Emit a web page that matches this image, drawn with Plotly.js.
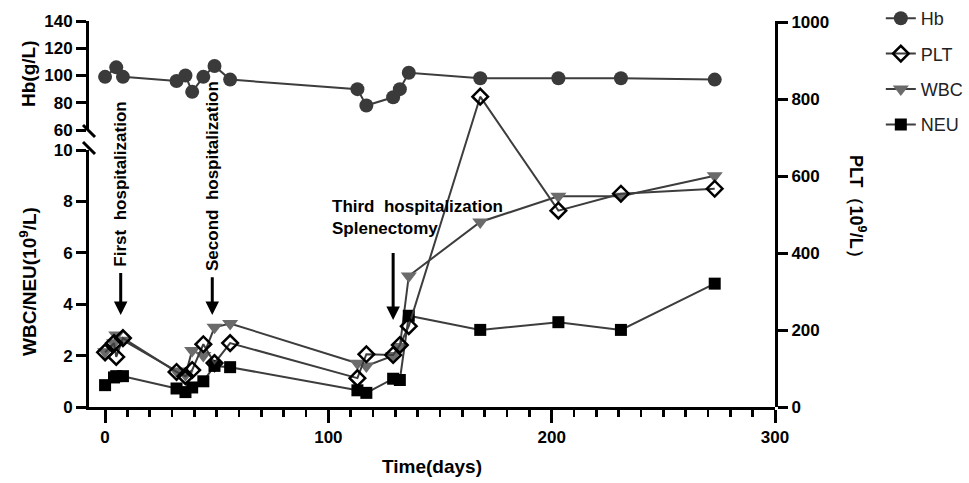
<!DOCTYPE html>
<html>
<head>
<meta charset="utf-8">
<script src="https://cdn.plot.ly/plotly-3.0.1.min.js"></script>
<style>
  html, body { margin: 0; padding: 0; background: #ffffff; }
  #chart { width: 969px; height: 483px; }
</style>
</head>
<body>
<div id="chart"></div>
<script>
// ---- data ----
const hbDays = [0, 5, 8, 32, 36, 39, 44, 49, 56, 113, 117, 129, 132, 136, 168, 203, 231, 273];
const hbValues = [99, 106, 99, 96, 100, 88, 99, 107, 97, 90, 78, 84, 90, 102, 98, 98, 98, 97];

const bloodDays = [0, 4, 5, 8, 32, 36, 39, 44, 49, 56, 113, 117, 129, 132, 136, 168, 203, 231, 273];
const pltValues = [142, 166, 130, 179, 91, 80, 96, 163, 114, 166, 75, 137, 135, 161, 210, 806, 510, 554, 567];
const wbcValues = [2.15, 2.5, 2.8, 2.6, 1.4, 1.25, 2.2, 2.0, 3.1, 3.25, 1.7, 1.6, 2.0, 2.35, 5.1, 7.2, 8.2, 8.2, 9.0];
const neuValues = [0.85, 1.15, 1.2, 1.2, 0.72, 0.58, 0.76, 1.0, 1.6, 1.55, 0.65, 0.55, 1.1, 1.05, 3.55, 3.0, 3.3, 3.0, 4.8];

const seriesNames = ['Hb', 'PLT', 'WBC', 'NEU'];
const xTickValues = [0, 100, 200, 300];

// event labels (day, text)
const eventDays = [7, 48, 129];
const eventTexts = ['First\u00a0 hospitalization', 'Second\u00a0 hospitalization', 'Third\u00a0 hospitalization<br>Splenectomy'];

// axis titles
const xTitle = 'Time(days)';
const hbTitle = 'Hb(g/L)';
const wbcTitle = 'WBC/NEU(10<sup>9</sup>/L)';
const pltTitle = 'PLT（10<sup>9</sup>/L）';

// ---- styling ----
const FONT = 'Liberation Sans, Arial, Helvetica, sans-serif';
const LINE = '#3d3d3d';

const traces = [
  {
    name: seriesNames[0], x: hbDays, y: hbValues, xaxis: 'x', yaxis: 'y2',
    mode: 'lines+markers', legendgroup: 'a', cliponaxis: false,
    line: { color: LINE, width: 2 },
    marker: { symbol: 'circle', size: 14, color: '#3a3a3a' }
  },
  {
    name: seriesNames[1], x: bloodDays, y: pltValues, xaxis: 'x', yaxis: 'y3',
    mode: 'lines+markers', legendgroup: 'b', cliponaxis: false,
    line: { color: LINE, width: 2 },
    marker: { symbol: 'diamond-open', size: 12, color: '#000000', line: { width: 2.5, color: '#000000' } }
  },
  {
    name: seriesNames[2], x: bloodDays, y: wbcValues, xaxis: 'x', yaxis: 'y',
    mode: 'lines+markers', legendgroup: 'c', cliponaxis: false,
    line: { color: LINE, width: 2 },
    marker: { symbol: 'triangle-down', size: 14, color: '#6b6b6b' }
  },
  {
    name: seriesNames[3], x: bloodDays, y: neuValues, xaxis: 'x', yaxis: 'y',
    mode: 'lines+markers', legendgroup: 'd', cliponaxis: false,
    line: { color: LINE, width: 2 },
    marker: { symbol: 'square', size: 12, color: '#000000' }
  }
];

const tickFont = { family: FONT, size: 17, color: '#000', weight: 'bold' };
const titleFont = { family: FONT, size: 19, color: '#000', weight: 'bold' };
const labelFont = { family: FONT, size: 17, color: '#000', weight: 'bold' };

const axisCommon = {
  showline: true, linewidth: 3, linecolor: '#000',
  ticks: 'outside', tickwidth: 3, tickcolor: '#000',
  showgrid: false, zeroline: false, tickfont: tickFont
};

const annotations = [
  // rotated event labels, each with its downward arrow
  {
    x: eventDays[0], y: 3.58, xref: 'x', yref: 'y',
    ax: eventDays[0], ay: 8.68, axref: 'x', ayref: 'y',
    text: eventTexts[0], textangle: -90, font: labelFont,
    showarrow: true, arrowhead: 2, arrowsize: 0.9, arrowwidth: 3, arrowcolor: '#000', startstandoff: 5
  },
  {
    x: eventDays[1], y: 3.58, xref: 'x', yref: 'y',
    ax: eventDays[1], ay: 9.0, axref: 'x', ayref: 'y',
    text: eventTexts[1], textangle: -90, font: labelFont,
    showarrow: true, arrowhead: 2, arrowsize: 0.9, arrowwidth: 3, arrowcolor: '#000', startstandoff: 5
  },
  {
    x: 100.8, y: 7.37, xref: 'x', yref: 'y', text: eventTexts[2], align: 'left',
    showarrow: false, xanchor: 'left', yanchor: 'middle', font: labelFont
  },
  { x: eventDays[2], y: 3.39, xref: 'x', yref: 'y', ax: eventDays[2], ay: 6.05, axref: 'x', ayref: 'y',
    text: '', showarrow: true, arrowhead: 2, arrowsize: 0.9, arrowwidth: 3, arrowcolor: '#000' },
  // left axis titles
  {
    x: (28 - 89) / 686, y: (407 - 74) / 386, xref: 'paper', yref: 'paper', text: hbTitle, textangle: -90,
    showarrow: false, xanchor: 'center', yanchor: 'middle', font: titleFont
  },
  {
    x: (28 - 89) / 686, y: (407 - 282) / 386, xref: 'paper', yref: 'paper', text: wbcTitle, textangle: -90,
    showarrow: false, xanchor: 'center', yanchor: 'middle', font: titleFont
  },
  // right axis title
  {
    x: 1.1195, y: 0.508, xref: 'paper', yref: 'paper', text: pltTitle, textangle: 90,
    showarrow: false, xanchor: 'center', yanchor: 'middle',
    font: { family: FONT, size: 18, color: '#000', weight: 'bold' }
  }
];

// axis break marks
const shapes = [
  { type: 'line', xref: 'paper', yref: 'paper', x0: (83 - 89) / 686, x1: (95 - 89) / 686,
    y0: (407 - 125) / 386, y1: (407 - 137) / 386, line: { color: '#000', width: 3 } },
  { type: 'line', xref: 'paper', yref: 'paper', x0: (83 - 89) / 686, x1: (95 - 89) / 686,
    y0: (407 - 142) / 386, y1: (407 - 154) / 386, line: { color: '#000', width: 3 } }
];

const layout = {
  width: 969, height: 483,
  margin: { l: 89, r: 194, t: 21, b: 76 },
  paper_bgcolor: '#fff', plot_bgcolor: 'rgba(0,0,0,0)',
  font: { family: FONT, color: '#000' },
  showlegend: true,
  legend: {
    xref: 'container', yref: 'container',
    x: 0.909, y: 1.008, xanchor: 'left', yanchor: 'top',
    font: { family: FONT, size: 18, color: '#222' },
    traceorder: 'grouped', tracegroupgap: 9, bgcolor: 'rgba(0,0,0,0)'
  },
  xaxis: Object.assign({}, axisCommon, {
    domain: [0, 1], anchor: 'y', range: [-7.2, 300],
    tickmode: 'array', tickvals: xTickValues, ticklen: 13,
    minor: { dtick: 10, tick0: 0, ticks: 'outside', ticklen: 7, tickwidth: 2.5, tickcolor: '#000', showgrid: false },
    title: { text: xTitle, font: titleFont, standoff: 14 }
  }),
  yaxis: Object.assign({}, axisCommon, {
    domain: [0, 0.6658], anchor: 'x', range: [0, 10], dtick: 2, ticklen: 10
  }),
  yaxis2: Object.assign({}, axisCommon, {
    domain: [0.7176, 1], anchor: 'x', range: [60, 140], dtick: 20, ticklen: 10
  }),
  yaxis3: Object.assign({}, axisCommon, {
    domain: [0, 1], anchor: 'x', side: 'right', range: [0, 1002.6], dtick: 200, ticklen: 10
  }),
  annotations: annotations,
  shapes: shapes
};

Plotly.newPlot('chart', traces, layout, { displayModeBar: false, staticPlot: true });
</script>
</body>
</html>
